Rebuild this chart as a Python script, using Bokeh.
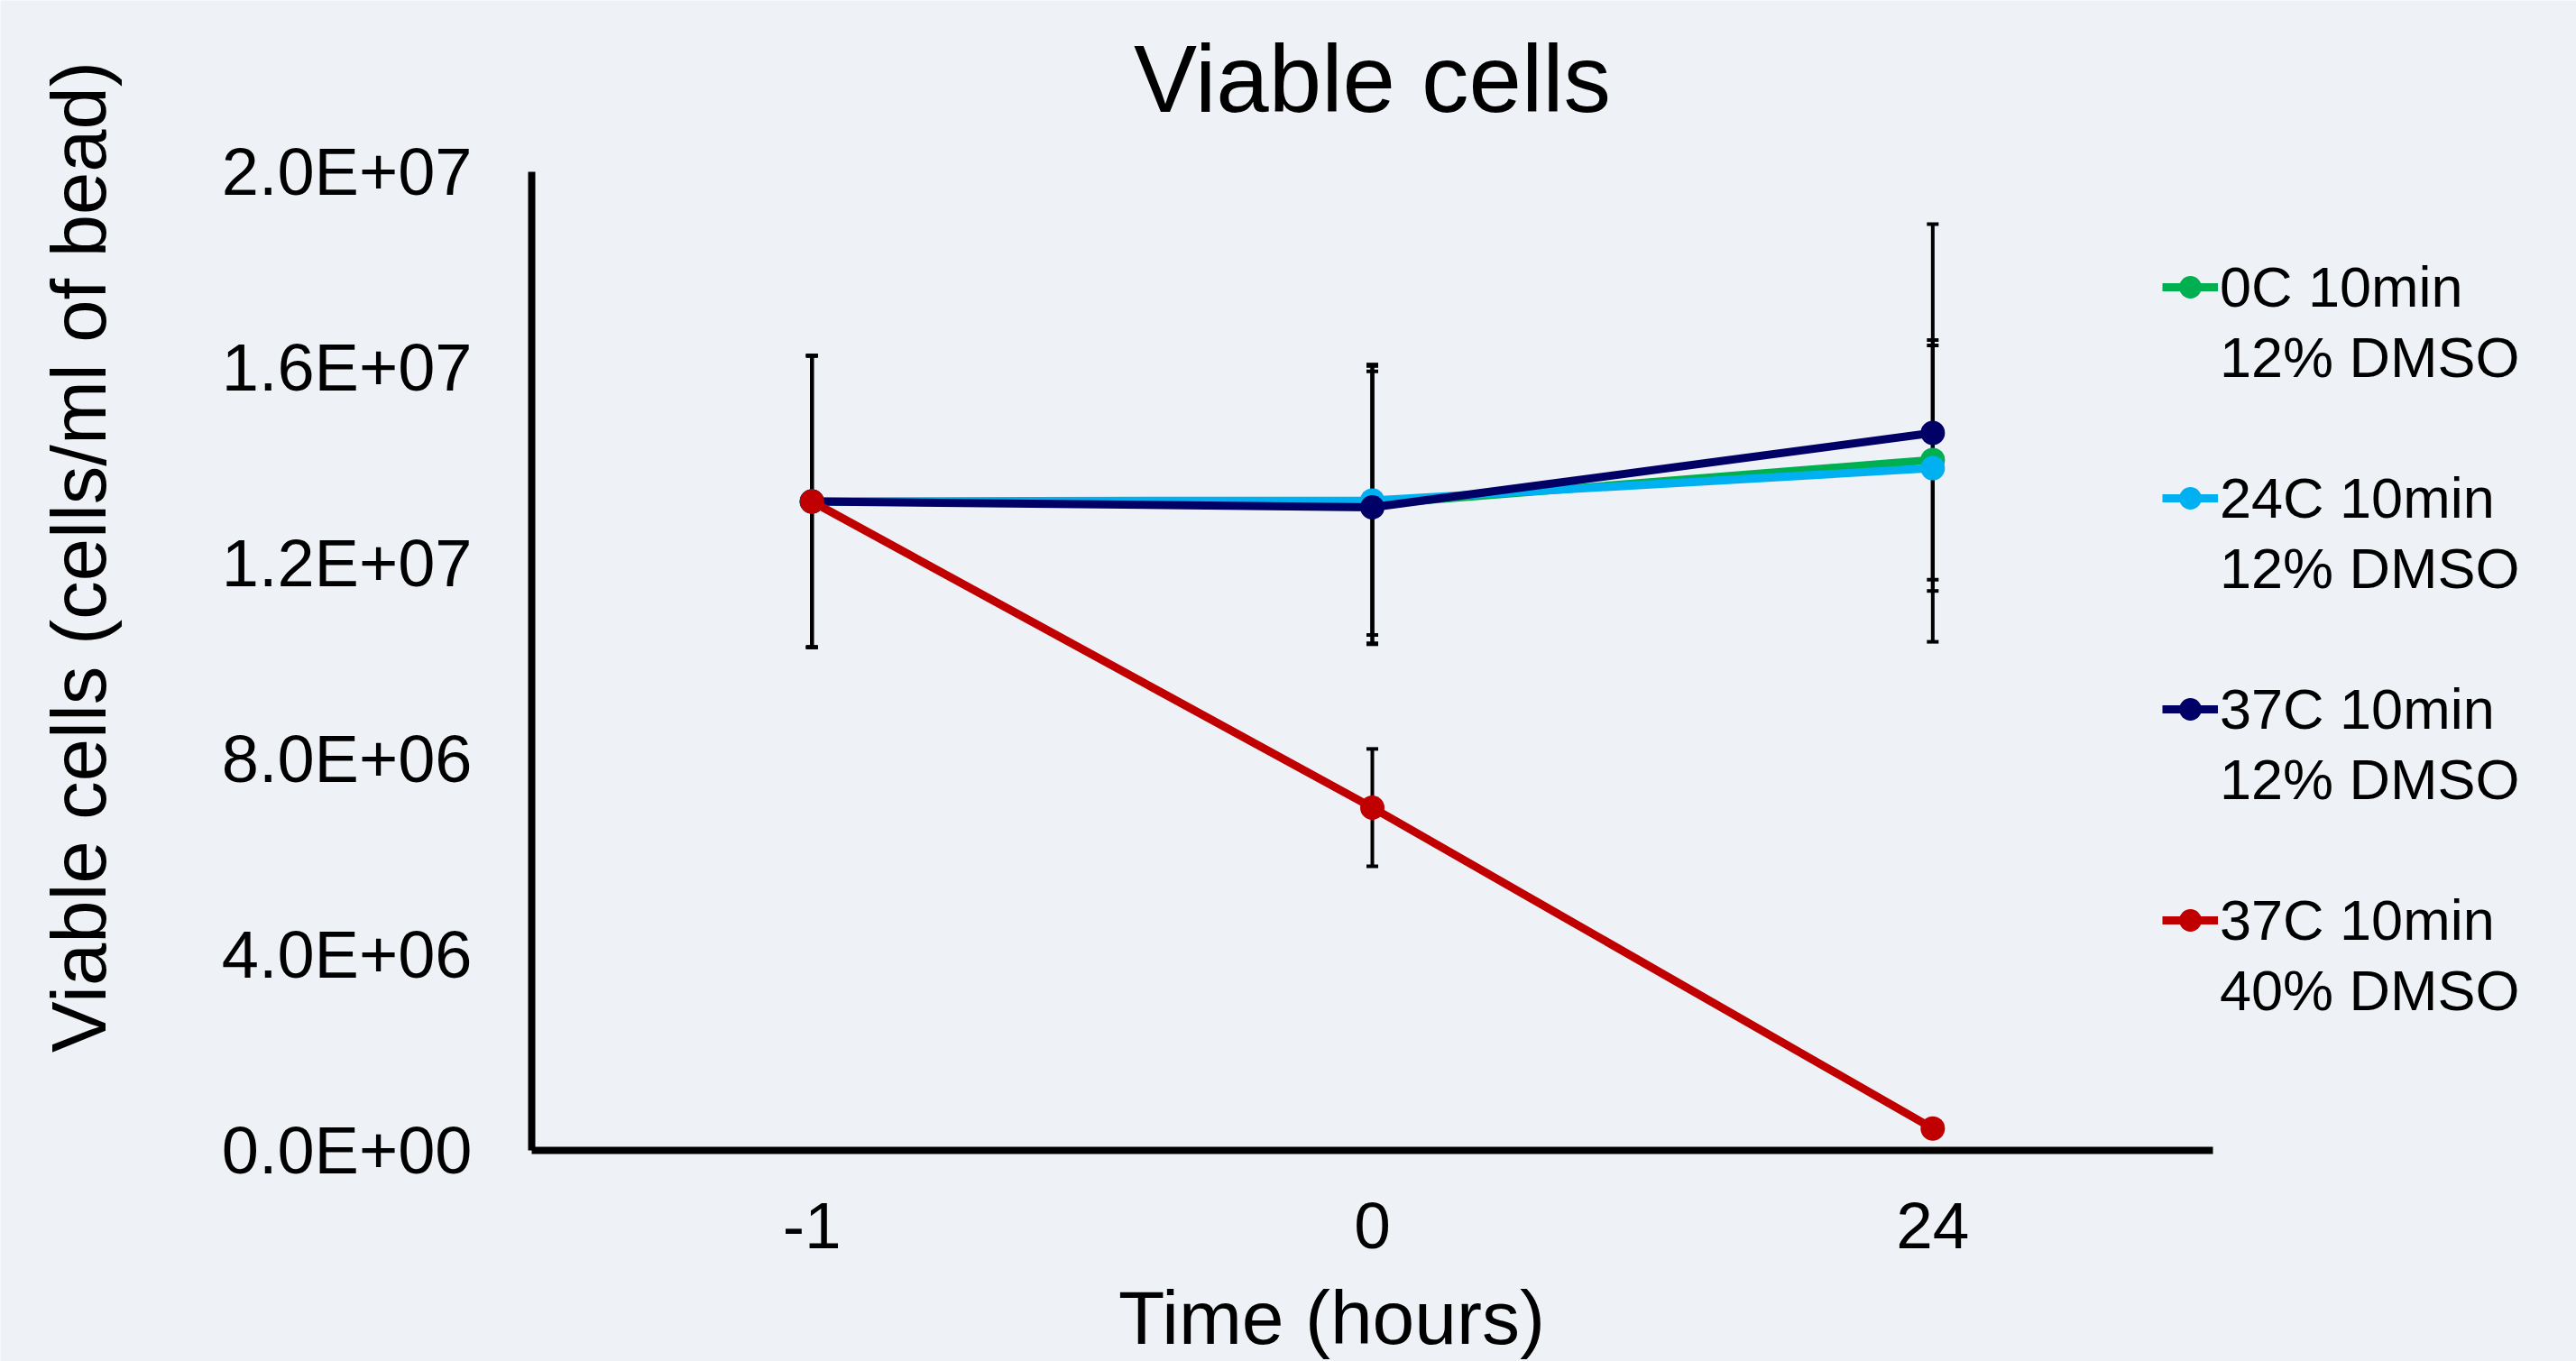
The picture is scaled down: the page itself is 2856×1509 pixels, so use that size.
import numpy as np
from math import pi
from bokeh.plotting import figure
from bokeh.models import (ColumnDataSource, Range1d, FixedTicker, Whisker, TeeHead,
                          Legend, LegendItem, Label)
from bokeh.embed import file_html
from bokeh.resources import INLINE

# ---------------- data ----------------
time_labels = ["-1", "0", "24"]

legend_line1 = ["0C 10min", "24C 10min", "37C 10min", "37C 10min"]
legend_line2 = ["12% DMSO", "12% DMSO", "12% DMSO", "40% DMSO"]

mean_0C_12 = [13.26e6, 13.20e6, 14.11e6]
mean_24C_12 = [13.26e6, 13.28e6, 13.94e6]
mean_37C_12 = [13.26e6, 13.14e6, 14.66e6]
mean_37C_40 = [13.26e6, 7.00e6, 0.44e6]

err_0C_12 = [2.98e6, 2.86e6, 2.45e6]
err_24C_12 = [2.98e6, 2.75e6, 2.51e6]
err_37C_12 = [2.98e6, 2.78e6, 4.27e6]
err_37C_40 = [2.98e6, 1.20e6, 0.05e6]

series_colors = ["#00B050", "#00B0F0", "#000066", "#C00000"]

y_ticks = [0, 4000000, 8000000, 12000000, 16000000, 20000000]
y_tick_labels = ["0.0E+00", "4.0E+06", "8.0E+06", "1.2E+07", "1.6E+07", "2.0E+07"]

means = [mean_0C_12, mean_24C_12, mean_37C_12, mean_37C_40]
errs = [err_0C_12, err_24C_12, err_37C_12, err_37C_40]

# ---------------- layout (pixels) ----------------
BG = "#EEF2F7"
FONT = "Liberation Sans"
W, H = 2856, 1509
AX_L, AX_R, AX_T, AX_B = 589, 2453, 190, 1274.5   # where the drawn axes sit
Y_MAX = y_ticks[-1]

n = len(time_labels)
x_pos = list(range(n))
x_lo, x_hi = -0.5, n - 0.5
px_per_x = (AX_R - AX_L) / (x_hi - x_lo)
px_per_y = (AX_B - AX_T) / Y_MAX
x_range = Range1d(x_lo - AX_L / px_per_x, x_hi + (W - AX_R) / px_per_x)
y_range = Range1d(-(H - AX_B) / px_per_y, Y_MAX + AX_T / px_per_y)

p = figure(width=W, height=H, x_range=x_range, y_range=y_range,
           output_backend="svg", toolbar_location=None, min_border=0)

p.background_fill_color = BG
p.border_fill_color = BG
p.outline_line_color = None
p.xgrid.visible = False
p.ygrid.visible = False

for ax in (p.xaxis[0], p.yaxis[0]):
    ax.axis_line_width = 8
    ax.axis_line_color = "black"
    ax.major_tick_line_color = None
    ax.minor_tick_line_color = None
    ax.major_tick_out = 0
    ax.major_tick_in = 0
    ax.minor_tick_out = 0
    ax.minor_tick_in = 0
    ax.major_label_text_font = FONT
    ax.major_label_text_color = "black"

ya = p.yaxis[0]
ya.fixed_location = x_lo
ya.bounds = (0, Y_MAX)
ya.ticker = FixedTicker(ticks=y_ticks)
ya.major_label_overrides = {t: l for t, l in zip(y_ticks, y_tick_labels)}
ya.major_label_text_font_size = "74px"
ya.major_label_standoff = 66

xa = p.xaxis[0]
xa.fixed_location = 0
xa.bounds = (x_lo, x_hi)
xa.ticker = FixedTicker(ticks=x_pos)
xa.major_label_overrides = {i: lab for i, lab in zip(x_pos, time_labels)}
xa.major_label_text_font_size = "73px"
xa.major_label_standoff = 59


def scr(cx, cy):
    return dict(x=cx, y=H - cy, x_units="screen", y_units="screen")


# title and axis titles (anchored at the middle of the text)
p.add_layout(Label(**scr(1521, 87), text="Viable cells", text_align="center",
                   text_baseline="middle", text_font=FONT, text_font_size="105px",
                   text_color="black"))
p.add_layout(Label(**scr(87, 617), text="Viable cells (cells/ml of bead)", angle=pi / 2,
                   text_align="center", text_baseline="middle",
                   text_font=FONT, text_font_size="85px", text_color="black"))
p.add_layout(Label(**scr(1476, 1460), text="Time (hours)", text_align="center",
                   text_baseline="middle", text_font=FONT, text_font_size="84px",
                   text_color="black"))

# ---------------- series ----------------
renderers = []
for m, e, c in zip(means, errs, series_colors):
    m = np.array(m)
    e = np.array(e)
    src = ColumnDataSource(dict(x=x_pos, y=m, upper=m + e, lower=m - e))
    w = Whisker(source=src, base="x", upper="upper", lower="lower",
                line_width=4, line_color="black", level="underlay",
                upper_head=TeeHead(size=13, line_width=4, line_color="black"),
                lower_head=TeeHead(size=13, line_width=4, line_color="black"))
    p.add_layout(w)
    lr = p.line("x", "y", source=src, line_color=c, line_width=9, line_join="round")
    sr = p.scatter("x", "y", source=src, size=27, fill_color=c, line_color=None)
    renderers.append([lr, sr])

dummy = p.line(x=[], y=[], line_alpha=0)

items = []
for i, (l1, l2) in enumerate(zip(legend_line1, legend_line2)):
    items.append(LegendItem(label=l1, renderers=renderers[i]))
    items.append(LegendItem(label=l2, renderers=[dummy]))
    if i < len(legend_line1) - 1:
        items.append(LegendItem(label=" ", renderers=[dummy]))

legend = Legend(items=items, location=(2397, H - 1137), glyph_width=62, glyph_height=78,
                label_height=78, spacing=0, padding=0, margin=0, label_standoff=2,
                border_line_color=None, background_fill_alpha=0,
                label_text_font=FONT, label_text_font_size="63px",
                label_text_color="black")
p.add_layout(legend)

html = file_html(p, INLINE)
html = html.replace("<body>", '<body style="background-color:%s;margin:0;">' % BG, 1)
open("out.html", "w").write(html)
